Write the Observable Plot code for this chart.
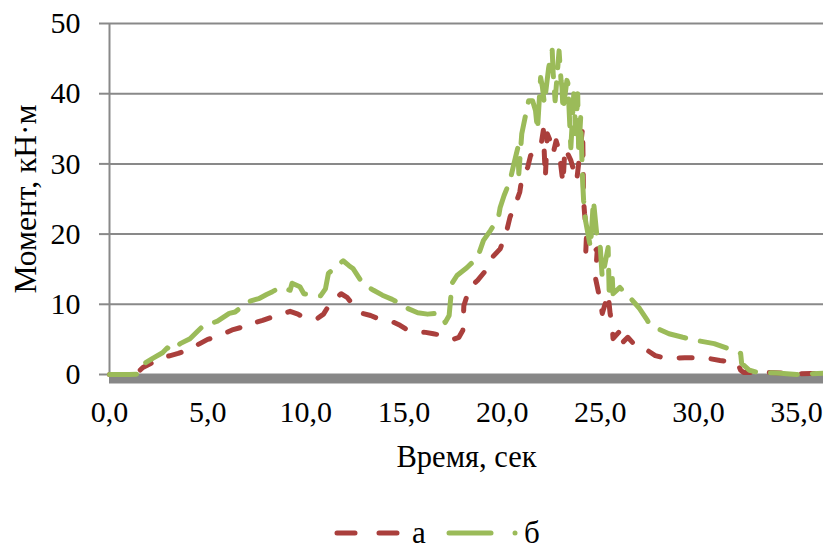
<!DOCTYPE html>
<html>
<head>
<meta charset="utf-8">
<script src="https://cdn.jsdelivr.net/npm/d3@7"></script>
<script src="https://cdn.jsdelivr.net/npm/@observablehq/plot@0.6"></script>
<style>
  html, body { margin: 0; padding: 0; background: #fff; }
  #wrap { position: relative; width: 823px; height: 549px; overflow: hidden; font-family: "Liberation Serif", "Times New Roman", serif; }
  #legend { position: absolute; left: 0; top: 490px; }
</style>
</head>
<body>
<div id="wrap"><div id="chart"></div><div id="legend"></div></div>
<script>
// ---- data ----
const seriesNames = ["а", "б"];
const xTickValues = [0, 5, 10, 15, 20, 25, 30, 35];
const yTickValues = [0, 10, 20, 30, 40, 50];
const xTitle = "Время, сек";
const yTitle = "Момент, кН·м";

const timeA = [0.0,0.5,1.0,1.4,1.7,2.2,2.7,3.1,3.5,3.9,4.2,4.6,5.0,5.4,5.8,6.3,6.7,7.0,7.4,7.8,8.2,8.5,8.9,9.2,9.6,9.9,10.3,10.6,10.9,11.1,11.4,11.8,12.1,12.3,12.6,12.9,13.3,13.65,14.1,14.5,14.8,15.2,15.6,16.1,16.5,16.9,17.2,17.5,17.8,18.0,18.05,18.3,18.5,18.75,19.25,19.5,19.9,20.2,20.4,20.7,20.9,21.0,21.3,21.45,21.7,21.96,22.1,22.2,22.3,22.45,22.6,22.75,22.9,23.1,23.2,23.5,23.8,24.1,24.15,24.2,24.3,24.25,24.5,24.85,24.75,25.0,25.1,25.4,25.5,25.6,25.65,26.1,26.15,26.4,26.8,27.2,27.8,28.2,28.6,29.3,29.8,30.3,31.1,31.6,32.0,32.15,32.3,32.8,33.5,34.2,35.0,35.7,36.4];
const valueA = [0.0,0.0,0.05,0.2,1.0,1.7,2.4,2.7,3.0,3.4,3.8,4.4,5.0,5.3,5.8,6.4,6.7,7.3,7.4,7.7,8.1,8.5,8.7,9.0,8.6,8.1,8.0,8.0,8.6,9.5,10.6,11.5,11.0,10.3,9.4,8.7,8.4,8.0,7.8,7.4,7.0,6.3,6.1,6.0,5.8,5.6,5.4,5.0,5.3,6.3,9.8,12.0,12.8,13.4,15.1,16.7,17.9,20.1,22.4,24.4,26.0,27.9,29.5,31.2,31.6,32.3,34.8,28.0,34.3,33.3,31.5,33.3,31.9,27.2,32.3,30.5,27.6,35.2,24.8,22.9,20.1,16.7,17.2,17.9,13.8,10.5,8.7,11.5,8.7,7.2,5.1,6.5,4.6,5.3,4.1,3.8,2.7,2.4,2.3,2.4,2.4,2.4,2.0,1.8,1.6,0.6,0.3,0.3,0.3,0.2,0.1,0.15,0.15];

const timeB = [0.0,0.5,1.0,1.4,1.5,1.8,2.2,2.7,2.95,3.2,3.6,4.1,4.5,4.8,5.1,5.5,6.1,6.4,6.8,7.2,7.6,8.0,8.3,8.7,9.2,9.3,9.7,9.9,10.3,10.75,11.0,11.15,11.9,12.2,12.4,12.8,13.1,13.45,13.9,14.4,14.8,15.2,15.7,16.2,16.6,16.9,17.1,17.3,17.45,17.7,18.2,18.75,19.05,19.4,19.8,19.9,20.1,20.4,20.6,20.8,20.85,21.0,21.2,21.35,21.55,21.7,21.8,21.96,22.05,22.15,22.37,22.55,22.6,22.7,22.9,23.0,23.05,23.1,23.3,23.35,23.5,23.65,23.75,23.85,23.9,24.0,24.1,24.15,24.25,24.5,24.65,24.85,25.0,25.1,25.4,25.45,25.6,25.65,26.0,26.3,26.5,27.0,27.4,27.5,27.8,28.5,29.2,30.0,30.8,31.5,32.15,32.2,32.6,33.0,34.0,35.0,35.7,36.4];
const valueB = [0.0,0.0,0.0,0.05,0.6,1.6,2.3,3.1,3.8,3.4,4.4,5.1,6.2,7.0,7.2,7.6,8.7,8.9,9.8,10.5,10.8,11.4,11.8,12.4,12.0,13.0,12.5,11.5,11.3,11.2,12.2,14.4,16.2,15.5,15.1,13.4,12.6,12.0,11.3,10.7,10.1,9.4,8.8,8.6,8.7,8.4,7.4,8.4,13.0,14.1,15.2,16.7,19.1,20.5,22.2,23.8,25.5,27.6,30.0,32.3,28.6,34.3,37.0,39.0,39.0,37.6,34.8,42.3,41.0,38.6,43.7,46.2,42.9,39.0,46.1,41.9,40.9,37.6,41.9,41.5,32.3,40.0,34.3,40.0,31.5,36.6,27.6,24.8,21.9,18.1,24.8,19.1,18.1,13.8,18.1,12.0,14.4,11.5,12.4,11.5,11.0,9.4,7.7,7.2,6.7,5.8,5.3,4.8,4.4,3.7,3.0,1.6,0.6,0.3,0.2,0.0,0.1,0.2];

const colorA = "#AA3F3C";
const colorB = "#9BBB59";
const gridColor = "#898989";
const fontStack = "'Liberation Serif', 'Times New Roman', serif";

const dataA = timeA.map((t, i) => ({t, v: valueA[i]}));
const dataB = timeB.map((t, i) => ({t, v: valueB[i]}));

const chart = Plot.plot({
  width: 823,
  height: 490,
  marginLeft: 109,
  marginRight: 0,
  marginTop: 23,
  marginBottom: 116,
  style: {fontFamily: fontStack, fontSize: "30px", color: "#000", background: "#fff", overflow: "visible"},
  x: {domain: [0, 36.37]},
  y: {domain: [0, 50]},
  marks: [
    Plot.gridY(yTickValues, {stroke: gridColor, strokeOpacity: 1, strokeWidth: 2}),
    Plot.axisY(yTickValues, {tickSize: 10, tickPadding: 19, stroke: gridColor, strokeWidth: 2, label: null, fontSize: 30}),
    Plot.ruleX([0], {stroke: gridColor, strokeWidth: 2}),
    Plot.ruleY([0], {stroke: "#878787", strokeWidth: 9, dy: 4.5}),
    Plot.axisX(xTickValues, {tickSize: 0, tickPadding: 26, label: null, fontSize: 30,
      tickFormat: d => d.toFixed(1).replace(".", ",")}),
    Plot.line(dataA, {x: "t", y: "v", stroke: colorA, strokeWidth: 5, strokeLinecap: "round", strokeLinejoin: "round", strokeDasharray: "13 19"}),
    Plot.line(dataB, {x: "t", y: "v", stroke: colorB, strokeWidth: 5, strokeLinecap: "round", strokeLinejoin: "round", strokeDasharray: "27 15"}),
    Plot.text([xTitle], {text: d => d, frameAnchor: "bottom", textAnchor: "middle", lineAnchor: "top", dy: 70.5, fontSize: 30.5}),
    Plot.text([yTitle], {text: d => d, frameAnchor: "left", textAnchor: "middle", lineAnchor: "top", rotate: -90, dx: -96, fontSize: 31.5})
  ]
});
document.getElementById("chart").appendChild(chart);

// legend
const lg = d3.select("#legend").append("svg").attr("width", 823).attr("height", 59)
  .style("font-family", fontStack);
const ly = 43;
lg.append("line").attr("x1", 337).attr("x2", 398).attr("y1", ly).attr("y2", ly)
  .attr("stroke", colorA).attr("stroke-width", 5).attr("stroke-linecap", "round").attr("stroke-dasharray", "18 24");
lg.append("text").attr("x", 412).attr("y", 53).attr("font-size", 31).text(seriesNames[0]);
lg.append("line").attr("x1", 449).attr("x2", 491).attr("y1", ly).attr("y2", ly)
  .attr("stroke", colorB).attr("stroke-width", 5).attr("stroke-linecap", "round");
lg.append("circle").attr("cx", 515).attr("cy", ly).attr("r", 2.5).attr("fill", colorB);
lg.append("text").attr("x", 524).attr("y", 53).attr("font-size", 31).text(seriesNames[1]);
</script>
</body>
</html>
